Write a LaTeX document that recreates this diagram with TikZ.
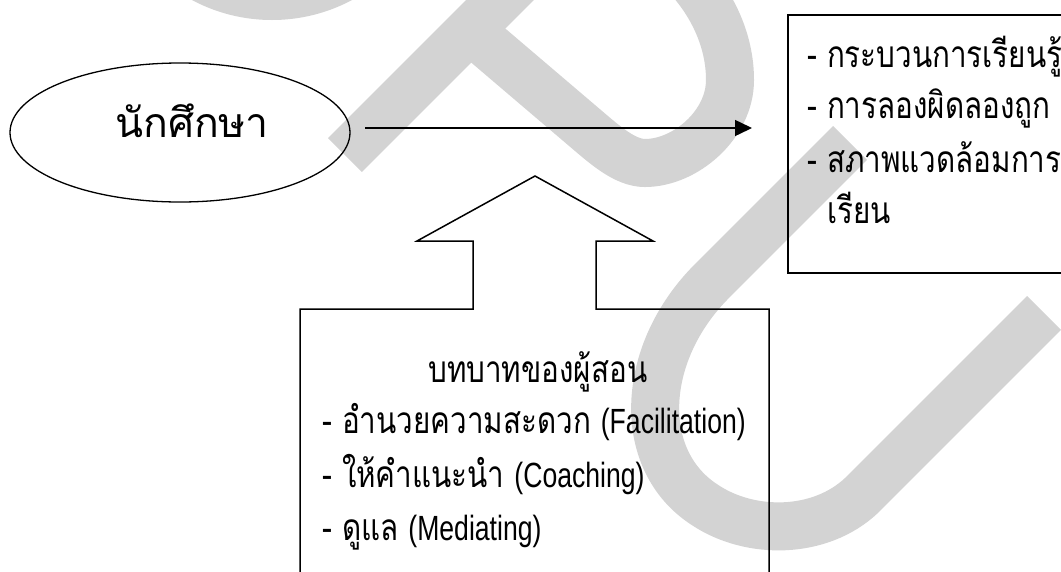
\documentclass[tikz,border=0pt]{standalone}
\usepackage{fontspec}
\setmainfont[Script=Thai]{Loma}
\newfontfamily\thainarrow[Script=Thai,FakeStretch=0.8]{Loma}
\newfontfamily\enfont[FakeStretch=0.76]{Liberation Sans}
\usetikzlibrary{arrows.meta,shapes.geometric}
\definecolor{wmgray}{RGB}{211,211,211}
\tikzset{
  wm/.style={draw=wmgray, line width=48pt},
  outline/.style={draw=black, line width=1.5pt},
  txt/.style={anchor=base west, inner sep=0pt, font=\thainarrow\fontsize{37}{40}\selectfont},
  bigtxt/.style={anchor=base west, inner sep=0pt, font=\fontsize{41}{48}\selectfont},
}
\newcommand{\entext}[1]{{\enfont\fontsize{35}{40}\selectfont #1}}
\begin{document}
\begin{tikzpicture}[x=1pt,y=-1pt]
\useasboundingbox (0,0) rectangle (1061,571);
\clip (0,0) rectangle (1061,571);
\fill[white] (0,0) rectangle (1061,571);
% watermark
\draw[wm] (272,-150) circle (146pt);
\draw[wm] (345,155) -- (545,-45);
\draw[wm] (470,30) -- (585,128) .. controls (605,145) and (625,163) .. (645,163)
  .. controls (685,163) and (730,125) .. (730,80)
  .. controls (730,40) and (712,5) .. (690,-20);
\draw[wm] (850,143) -- (712,281) .. controls (640,353) and (635,460) .. (705,505)
  .. controls (750,535) and (820,535) .. (862,495) -- (1044,313);
% student ellipse
\node[ellipse, draw, line width=1.3pt, minimum width=340pt, minimum height=139pt, inner sep=0pt] (stud) at (180,132.5) {};
\node[bigtxt] (studt) at (115,137) {นักศึกษา};
% arrow
\coordinate (as) at (365,128);
\coordinate (ae) at (752,128);
\draw[line width=1.5pt, -{Triangle[length=17pt,width=16pt]}] (as) -- (ae);
% right box
\coordinate (rb1) at (1080,15);
\coordinate (rb2) at (788,15);
\coordinate (rb3) at (788,273);
\coordinate (rb4) at (1080,273);
\draw[outline] (rb1) -- (rb2) -- (rb3) -- (rb4);
\node[txt] (r1) at (807,67) {- กระบวนการเรียนรู้};
\node[txt] (r2) at (807,118) {- การลองผิดลองถูก};
\node[txt] (r3) at (807,172) {- สภาพแวดล้อมการ};
\node[txt] (r4) at (827,223) {เรียน};
% block arrow with box
\draw[outline] (300,590) -- (300,309) -- (473,309) -- (473,241) -- (417,241) -- (535,176)
  -- (653,241) -- (596,241) -- (596,309) -- (769,309) -- (769,590);
\node[txt] (b0) at (428,382) {บทบาทของผู้สอน};
\node[txt] (b1) at (322,433) {- อำนวยความสะดวก \entext{(Facilitation)}};
\node[txt] (b2) at (322,487) {- ให้คำแนะนำ \entext{(Coaching)}};
\node[txt] (b3) at (322,540) {- ดูแล \entext{(Mediating)}};
\end{tikzpicture}
\end{document}
